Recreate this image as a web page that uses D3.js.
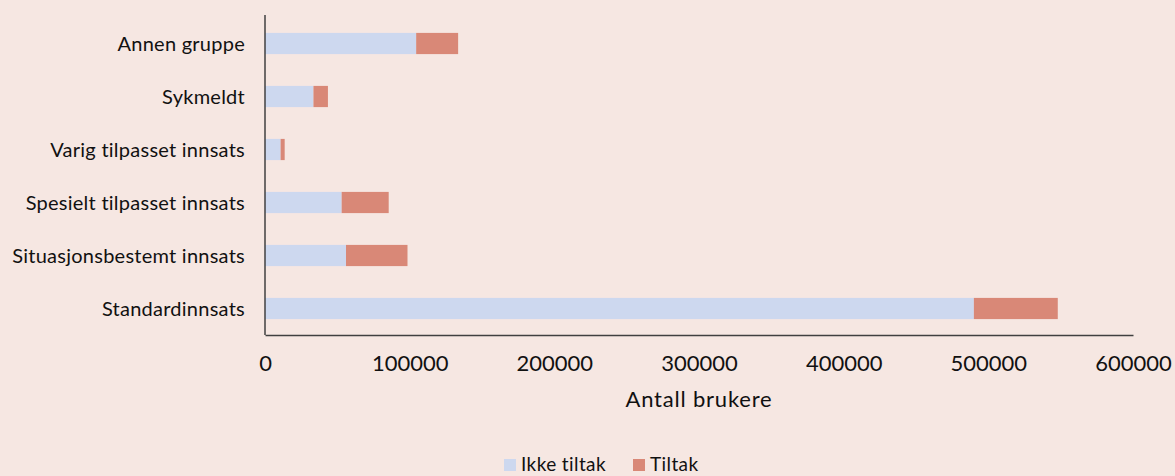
<!DOCTYPE html>
<html lang="no">
<head>
<meta charset="UTF-8">
<title>Antall brukere</title>
<script src="https://d3js.org/d3.v7.min.js"></script>
<style>
  html, body { margin: 0; padding: 0; background: #f6e7e2; }
  .chart text { font-family: Lato, "Open Sans", sans-serif; fill: #111; }
</style>
</head>
<body>
<svg class="chart"></svg>
<script>
const categories = ['Annen gruppe', 'Sykmeldt', 'Varig tilpasset innsats',
                    'Spesielt tilpasset innsats', 'Situasjonsbestemt innsats', 'Standardinnsats'];
const ikkeTiltak = [104500, 33500, 10800, 53000, 56000, 490000];
const tiltak     = [29000, 10000, 2800, 32500, 42500, 58000];
const xTicks = [0, 100000, 200000, 300000, 400000, 500000, 600000];
const seriesNames = ['Ikke tiltak', 'Tiltak'];
const colors = ['#cdd8ef', '#d98877'];

const W = 1175, H = 476;
const margin = {top: 17, right: 42, bottom: 141, left: 265};
const width = W - margin.left - margin.right;
const height = H - margin.top - margin.bottom;

const svg = d3.select('.chart').attr('width', W).attr('height', H);
const g = svg.append('g').attr('transform', `translate(${margin.left},${margin.top})`);

const x = d3.scaleLinear().domain([0, 600000]).range([0, width]);
const y = d3.scaleBand().domain(categories).range([0, height]).paddingInner(0.6).paddingOuter(0.3);

const rows = categories.map((c, i) => ({cat: c, 'Ikke tiltak': ikkeTiltak[i], 'Tiltak': tiltak[i]}));
const stacked = d3.stack().keys(seriesNames)(rows);

g.selectAll('.series')
  .data(stacked).enter()
  .append('g')
  .attr('fill', (d, i) => colors[i])
  .selectAll('rect')
  .data(d => d).enter()
  .append('rect')
  .attr('x', d => x(d[0]))
  .attr('y', d => y(d.data.cat))
  .attr('width', d => x(d[1]) - x(d[0]))
  .attr('height', y.bandwidth());

// axes
const xAxis = d3.axisBottom(x).tickValues(xTicks).tickSize(0).tickFormat(d3.format('d'));
const gx = g.append('g').attr('transform', `translate(0,${height})`).call(xAxis);
gx.select('.domain').attr('stroke', '#404040').attr('stroke-width', 1.5);
gx.selectAll('text').attr('font-size', 22).attr('dy', null).attr('y', 36)
  .style('font-family', 'Lato, sans-serif');

const yAxis = d3.axisLeft(y).tickSize(0).tickPadding(20);
const gy = g.append('g').call(yAxis);
gy.select('.domain').attr('stroke', '#404040').attr('stroke-width', 1.5).attr('d', `M0,-2V${height}`);
gy.selectAll('text').attr('font-size', 20).attr('dy', '0.37em').attr('letter-spacing', 0.25)
  .style('font-family', 'Lato, sans-serif');

g.append('text')
  .attr('x', width / 2)
  .attr('y', height + 72)
  .attr('text-anchor', 'middle')
  .attr('font-size', 22)
  .attr('letter-spacing', 0.8)
  .text('Antall brukere');

// legend
const legend = svg.append('g').attr('transform', 'translate(504,459)');
const legendX = [0, 129];
seriesNames.forEach((name, i) => {
  const item = legend.append('g').attr('transform', `translate(${legendX[i]},0)`);
  item.append('rect').attr('width', 12).attr('height', 12).attr('fill', colors[i]);
  item.append('text').attr('x', 17).attr('y', 12).attr('font-size', 19)
    .attr('letter-spacing', 0.4).text(name);
});
</script>
</body>
</html>
